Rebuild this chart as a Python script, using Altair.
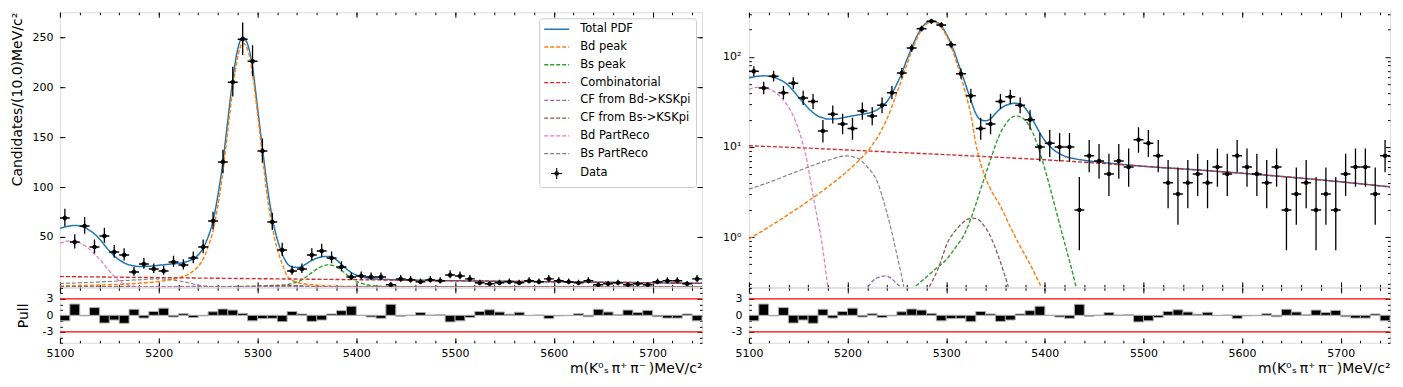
import altair as alt
import pandas as pd

# ------------------------------------------------------------------ data
bin_centers = list(range(5105, 5750, 10))
counts = [69, 45, 61, 40, 51, 35, 32, 15, 23, 18,
          16, 25, 22, 29, 40, 66, 125, 205, 248, 226,
          136, 65, 37, 16, 18, 32, 36, 29, 20, 10,
          11, 10, 10, 2, 8, 7, 5, 7, 6, 12,
          11, 8, 4, 3, 4, 5, 4, 6, 5, 8,
          6, 5, 4, 6, 2, 3, 4, 2, 3, 2,
          5, 6, 6, 3, 8]
pulls = [-1.0, 2.05, -0.1, 1.4, -1.4, -0.85, -1.45, 1.1, -0.5, 0.7,
         1.3, -0.3, 0.3, -0.4, -0.1, 0.65, 1.15, 0.95, 0.35, -1.0,
         -0.6, -0.55, -1.15, 0.7, 0.25, -1.1, -0.85, 0.25, 0.85, 1.65,
         0.0, -0.3, -0.55, 2.0, -0.15, 0.0, 0.5, 0.05, 0.1, -1.2,
         -1.0, -0.4, 0.7, 1.0, 0.6, 0.2, 0.55, -0.05, 0.05, -0.6,
         -0.1, -0.05, 0.3, -0.25, 1.1, 0.6, 0.1, 0.95, 0.5, 0.9,
         -0.25, -0.5, -0.5, 0.25, -1.0]

total_m = [5100, 5105, 5110, 5115, 5120, 5125, 5130, 5135, 5140, 5145, 5150, 5155, 5160, 5165,
           5170, 5175, 5180, 5190, 5200, 5210, 5220, 5225, 5230, 5235, 5240, 5245, 5250, 5255,
           5260, 5265, 5270, 5275, 5280, 5285, 5290, 5295, 5300, 5305, 5310, 5315, 5320, 5325,
           5330, 5335, 5340, 5345, 5350, 5355, 5360, 5365, 5370, 5375, 5380, 5385, 5390, 5395,
           5400, 5405, 5410, 5415, 5420, 5430, 5440, 5460, 5500, 5550, 5600, 5650, 5700, 5750]
total_v = [58.5, 60, 61, 61.5, 61, 59.5, 56.5, 53, 48, 42, 36, 31, 27, 24,
           22, 21, 20.4, 20.6, 21.6, 22.6, 23.6, 24.4, 25.8, 28.2, 32, 39, 50, 66,
           92, 125, 167, 208, 238, 250, 243, 220, 180, 139, 100, 69, 48, 33,
           23.5, 20, 19.5, 20.5, 23.5, 26.5, 28.8, 30, 30.5, 29.8, 27, 22.5, 18, 14.3,
           11.8, 10.2, 9.1, 8.4, 7.9, 7.4, 7.1, 6.7, 6.1, 5.6, 5.1, 4.6, 4.1, 3.6]

bd_m = [5100, 5120, 5140, 5160, 5180, 5200, 5210, 5220, 5225, 5230, 5235, 5240, 5245, 5250,
        5255, 5260, 5265, 5270, 5275, 5280, 5285, 5290, 5295, 5300, 5305, 5310, 5315, 5320,
        5325, 5330, 5335, 5340, 5345, 5355, 5365, 5375, 5385, 5395, 5405, 5420, 5750]
bd_v = [0.95, 1.29, 1.78, 2.5, 3.6, 5.4, 6.8, 8.9, 10.5, 12.6, 15.8, 20.5, 28, 40,
        56, 82, 115, 157, 199, 230, 244, 238, 213, 174, 131, 90, 60, 38,
        23, 11, 6.5, 4.5, 3.4, 2.2, 1.3, 0.79, 0.5, 0.3, 0.18, 0.08, 0.001]

bs_m = [5100, 5250, 5268, 5280, 5290, 5300, 5310, 5319, 5325, 5330, 5335, 5340, 5346, 5350,
        5355, 5360, 5365, 5371, 5376, 5380, 5384, 5388, 5393, 5397, 5402, 5407, 5412, 5417,
        5422, 5427, 5432, 5440, 5460, 5750]
bs_v = [0.001, 0.22, 0.28, 0.36, 0.45, 0.56, 0.78, 1.1, 1.6, 2.3, 3.4, 5.0, 7.8, 10.5,
        14.3, 17.7, 20.6, 22, 21.5, 19.8, 17.3, 14.2, 10.1, 7.4, 4.8, 3.0, 1.85, 1.15,
        0.72, 0.45, 0.27, 0.12, 0.01, 0.001]

comb_m = [5100, 5150, 5200, 5250, 5300, 5350, 5400, 5450, 5500, 5550, 5600, 5650, 5700, 5750]
comb_v = [10.3, 9.8, 9.25, 8.7, 8.2, 7.7, 7.2, 6.65, 6.1, 5.6, 5.1, 4.6, 4.1, 3.6]

cfbd_m = [5100, 5212, 5221, 5226, 5232, 5238, 5244, 5249, 5253, 5262, 5750]
cfbd_v = [0.001, 0.15, 0.28, 0.33, 0.36, 0.37, 0.35, 0.31, 0.28, 0.14, 0.001]

cfbs_m = [5100, 5270, 5283, 5292, 5302, 5310, 5316, 5322, 5327, 5333, 5338, 5343, 5348,
          5353, 5358, 5363, 5372, 5750]
cfbs_v = [0.001, 0.15, 0.28, 0.45, 0.9, 1.2, 1.42, 1.58, 1.62, 1.55, 1.35, 1.12, 0.85,
          0.61, 0.42, 0.28, 0.12, 0.001]

bdpr_m = [5100, 5108, 5118, 5128, 5138, 5145, 5150, 5155, 5159, 5162, 5167, 5174, 5180,
          5186, 5200, 5750]
bdpr_v = [43.5, 45.8, 44.7, 39.3, 30, 22, 16, 10.5, 6.9, 4.5, 2.2, 0.86, 0.28,
          0.09, 0.01, 0.001]

bspr_m = [5100, 5118, 5138, 5159, 5179, 5199, 5209, 5219, 5230, 5240, 5250, 5257, 5265,
          5300, 5750]
bspr_v = [3.4, 3.96, 4.81, 5.9, 7.05, 7.95, 7.6, 6.16, 4.13, 1.84, 0.64, 0.28, 0.08,
          0.001, 0.001]

component_names = ["Total PDF", "Bd peak", "Bs peak", "Combinatorial",
                   "CF from Bd->KSKpi", "CF from Bs->KSKpi", "Bd PartReco", "Bs PartReco"]
curves = {
    "Total PDF": (total_m, total_v),
    "Bd peak": (bd_m, bd_v),
    "Bs peak": (bs_m, bs_v),
    "Combinatorial": (comb_m, comb_v),
    "CF from Bd->KSKpi": (cfbd_m, cfbd_v),
    "CF from Bs->KSKpi": (cfbs_m, cfbs_v),
    "Bd PartReco": (bdpr_m, bdpr_v),
    "Bs PartReco": (bspr_m, bspr_v),
}
legend_names = component_names + ["Data"]
legend_colors = ["#1f77b4", "#ff7f0e", "#2ca02c", "#d62728", "#9467bd",
                 "#8c564b", "#e377c2", "#7f7f7f", "#000000"]
legend_dashes = [[1, 0], [4, 2], [4, 2], [4, 2], [4, 2], [4, 2], [4, 2], [4, 2], [1, 0]]
legend_widths = [1.5, 1.1, 1.1, 1.1, 1.1, 1.1, 1.1, 1.1, 1.5]
LINE_SYMBOL = "M-2.5,0L2.5,0"
DATA_SYMBOL = ("M-1.1,0L1.1,0M0,-1.1L0,1.1"
               "M0.35,0A0.35,0.35,0,1,1,-0.35,0A0.35,0.35,0,1,1,0.35,0")
legend_shapes = [LINE_SYMBOL] * 8 + [DATA_SYMBOL]

# ------------------------------------------------------------------ tables
rows = []
for name in component_names:
    ms, vs = curves[name]
    for m, v in zip(ms, vs):
        rows.append({"comp": name, "m": m, "v": v})
curve_df = pd.DataFrame(rows)


def poisson_lo(n):
    return n * (1 - 1 / (9 * n) - 1 / (3 * n ** 0.5)) ** 3 if n > 0 else 0.0


def poisson_hi(n):
    k = n + 1
    return k * (1 - 1 / (9 * k) + 1 / (3 * k ** 0.5)) ** 3


data_df = pd.DataFrame({
    "comp": ["Data"] * len(bin_centers),
    "m": bin_centers,
    "n": counts,
    "xl": [c - 5 for c in bin_centers],
    "xh": [c + 5 for c in bin_centers],
    "lo": [poisson_lo(n) for n in counts],
    "hi": [poisson_hi(n) for n in counts],
})
pull_df = pd.DataFrame({
    "m": bin_centers,
    "p": pulls,
    "xl": [c - 5 for c in bin_centers],
    "xh": [c + 5 for c in bin_centers],
})
limit_df = pd.DataFrame({"r": [3, -3]})

# ------------------------------------------------------------------ styling
FONT = "DejaVu Sans"
X_DOMAIN = [5100, 5750]
X_MAJOR = [5100, 5200, 5300, 5400, 5500, 5600, 5700]
X_MINOR = list(range(5100, 5751, 20))
LIN_DOMAIN = [0, 275]
LIN_MAJOR = [50, 100, 150, 200, 250]
LOG_DOMAIN = [0.28, 312]
LOG_MAJOR = [1, 10, 100]
LOG_MINOR = [0.3, 0.4, 0.5, 0.6, 0.7, 0.8, 0.9, 2, 3, 4, 5, 6, 7, 8, 9,
             20, 30, 40, 50, 60, 70, 80, 90, 200, 300]
PULL_DOMAIN = [-5, 5]
PULL_MAJOR = [-3, 0, 3]
PULL_MINOR = [-5, -4, -2, -1, 1, 2, 4, 5]
XTITLE = "m(K⁰ₛ\u2009π⁺\u2009π⁻\u2009)MeV/c²"
YTITLE = "Candidates/(10.0)MeV/c²"

LABELS = dict(labels=True, labelFont=FONT, labelFontSize=11, labelColor="black",
              labelFlush=False, labelOverlap=False)
TITLES = dict(titleFont=FONT, titleFontSize=14, titleFontWeight="normal", titleColor="black")


def tick_axis(orient, values, size, **kw):
    base = dict(orient=orient, values=values, tickSize=size, offset=-size,
                domain=False, grid=False, ticks=True, tickColor="black",
                tickWidth=1, labels=False, title=None)
    base.update(kw)
    return alt.Axis(**base)


xs = alt.Scale(domain=X_DOMAIN, nice=False, zero=False)
color_scale = alt.Scale(domain=legend_names, range=legend_colors)

legend = alt.Legend(
    title=None, orient="top-right", offset=6,
    fillColor="white", strokeColor="#cccccc", cornerRadius=3, padding=5,
    symbolSize=100, symbolStrokeWidth=1.3,
    symbolOffset=6.5, labelOffset=17.5,
    labelFont=FONT, labelFontSize=11.5, labelColor="black", labelLimit=300,
    rowPadding=5.8,
)


def main_panel(ys, y_major, y_minor, left_axis_kw, with_legend, width):
    lg = legend if with_legend else None
    lines = alt.Chart(curve_df).mark_line(clip=True, interpolate="monotone").encode(
        x=alt.X("m:Q", scale=xs, axis=tick_axis("bottom", X_MAJOR, 5)),
        y=alt.Y("v:Q", scale=ys, axis=tick_axis("left", y_major, 5, **left_axis_kw)),
        color=alt.Color("comp:N", scale=color_scale, legend=lg),
        strokeDash=alt.StrokeDash("comp:N",
                                  scale=alt.Scale(domain=legend_names, range=legend_dashes),
                                  legend=lg),
        strokeWidth=alt.StrokeWidth("comp:N",
                                    scale=alt.Scale(domain=legend_names, range=legend_widths),
                                    legend=None),
    )
    vbars = alt.Chart(data_df).mark_rule(color="black", strokeWidth=1.3, clip=True).encode(
        x=alt.X("m:Q", scale=xs, axis=None),
        y=alt.Y("lo:Q", scale=ys, axis=None), y2="hi:Q")
    hbars = alt.Chart(data_df).mark_rule(color="black", strokeWidth=1.5, clip=True).encode(
        x=alt.X("xl:Q", scale=xs, axis=None), x2="xh:Q",
        y=alt.Y("n:Q", scale=ys, axis=None))
    dots = alt.Chart(data_df).mark_point(filled=True, color="black", size=20, opacity=1,
                                         clip=True).encode(
        x=alt.X("m:Q", scale=xs, axis=None),
        y=alt.Y("n:Q", scale=ys, axis=None))
    layers = [lines, vbars, hbars, dots]
    if with_legend:
        crosses = alt.Chart(data_df).mark_point(filled=False, size=20, strokeWidth=1.3,
                                                opacity=1, clip=True).encode(
            x=alt.X("m:Q", scale=xs, axis=None),
            y=alt.Y("n:Q", scale=ys, axis=None),
            color=alt.Color("comp:N", scale=color_scale, legend=lg),
            shape=alt.Shape("comp:N",
                            scale=alt.Scale(domain=legend_names, range=legend_shapes),
                            legend=lg),
        )
        layers.append(crosses)
    for ax_x, ax_y in [
        (tick_axis("bottom", X_MINOR, 2.5), tick_axis("left", y_minor, 2.5)),
        (tick_axis("top", X_MAJOR, 5), tick_axis("right", y_major, 5)),
        (tick_axis("top", X_MINOR, 2.5), tick_axis("right", y_minor, 2.5)),
    ]:
        layers.append(alt.Chart(data_df).mark_point(opacity=0, clip=True).encode(
            x=alt.X("m:Q", scale=xs, axis=ax_x),
            y=alt.Y("n:Q", scale=ys, axis=ax_y)))
    return alt.layer(*layers).resolve_axis(
        x="independent", y="independent").properties(width=width, height=275)


def pull_panel(left_axis_kw, width):
    ps = alt.Scale(domain=PULL_DOMAIN, nice=False, zero=False)
    bars = alt.Chart(pull_df).mark_rect(fill="black", stroke="#aaaaaa", strokeWidth=1,
                                        clip=True).encode(
        x=alt.X("xl:Q", scale=xs,
                axis=tick_axis("bottom", X_MAJOR, 5, format="d", labelPadding=5,
                               title=XTITLE, titleAnchor="end", titlePadding=3,
                               **LABELS, **TITLES)),
        x2="xh:Q",
        y=alt.Y("p:Q", scale=ps,
                axis=tick_axis("left", PULL_MAJOR, 5, labelPadding=7,
                               labelExpr="replace(datum.label, '−', '-')",
                               **LABELS, **TITLES, **left_axis_kw)),
        y2=alt.datum(0),
    )
    rules = alt.Chart(limit_df).mark_rule(color="red", strokeWidth=1.2, clip=True).encode(
        y=alt.Y("r:Q", scale=ps, axis=None))
    layers = [bars, rules]
    for ax_x, ax_y in [
        (tick_axis("bottom", X_MINOR, 2.5), tick_axis("left", PULL_MINOR, 2.5)),
        (tick_axis("top", X_MAJOR, 5), tick_axis("right", PULL_MAJOR, 5)),
        (tick_axis("top", X_MINOR, 2.5), tick_axis("right", PULL_MINOR, 2.5)),
    ]:
        layers.append(alt.Chart(pull_df).mark_point(opacity=0, clip=True).encode(
            x=alt.X("m:Q", scale=xs, axis=ax_x),
            y=alt.Y("p:Q", scale=ps, axis=ax_y)))
    return alt.layer(*layers).resolve_axis(
        x="independent", y="independent").properties(width=width, height=55)


lin_scale = alt.Scale(domain=LIN_DOMAIN, nice=False, zero=False)
log_scale = alt.Scale(type="log", domain=LOG_DOMAIN, nice=False)

main_left = main_panel(
    lin_scale, LIN_MAJOR, LIN_MAJOR,
    dict(format="d", labelPadding=7, title=YTITLE, titleAnchor="end", titlePadding=7,
         **LABELS, **TITLES),
    True, 643)
main_right = main_panel(
    log_scale, LOG_MAJOR, LOG_MINOR,
    dict(labelPadding=8,
         labelExpr="datum.value == 1 ? '10⁰' : (datum.value == 10 ? '10¹' : '10²')",
         **LABELS),
    False, 642)

pull_left = pull_panel(dict(title="Pull", titlePadding=12), 643)
pull_right = pull_panel({}, 642)

res = dict(color="independent", strokeDash="independent", strokeWidth="independent",
           shape="independent")
left_col = alt.vconcat(main_left, pull_left, spacing=-2).resolve_scale(**res).resolve_legend(**res)
right_col = alt.vconcat(main_right, pull_right, spacing=-2).resolve_scale(**res).resolve_legend(**res)

chart = alt.hconcat(left_col, right_col, spacing=19).resolve_scale(**res).resolve_legend(
    **res
).properties(
    padding={"left": 2, "top": 3, "right": 4, "bottom": 0},
    background="white",
).configure_view(stroke="black", strokeWidth=1).configure(font=FONT)

chart.save("out.html", embed_options={"renderer": "svg", "actions": False})
